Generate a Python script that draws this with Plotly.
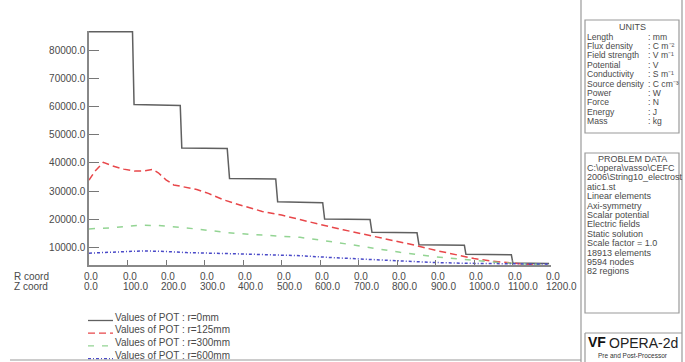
import plotly.graph_objects as go

# ---- potential along the string axis (Z coordinate, mm) ----
z_r0 = [0, 113, 117, 237, 241, 359, 365, 485, 490, 607, 612, 730, 735, 852, 857, 975, 979, 1097, 1101, 1150, 1195]
pot_r0 = [86500, 86500, 60700, 60400, 45300, 45100, 34500, 34300, 26200, 25900, 20100, 19900,
          15400, 15200, 11000, 10800, 7600, 7400, 4500, 4400, 4300]

z_r125 = [0, 15, 37, 60, 90, 120, 145, 165, 180, 200, 220, 250, 280, 310, 350, 392, 450, 500, 548,
          600, 660, 722, 800, 850, 900, 950, 1000, 1050, 1100, 1150, 1197]
pot_r125 = [33900, 37000, 40200, 39000, 37800, 37100, 37200, 37700, 36500, 34000, 32200, 31300,
            30600, 29200, 26900, 25100, 22800, 21500, 19800, 18200, 16300, 14500, 12300, 10700,
            9000, 7500, 6100, 5100, 4400, 3800, 3300]

z_r300 = [0, 60, 130, 180, 250, 320, 380, 450, 548, 634, 722, 808, 894, 980, 1068, 1150, 1195]
pot_r300 = [16600, 17000, 17900, 17800, 17000, 15800, 15000, 14400, 13600, 12000, 10000, 8300,
            6800, 5600, 4600, 4100, 3900]

z_r600 = [0, 60, 140, 200, 254, 374, 460, 548, 634, 722, 808, 894, 980, 1068, 1150, 1195]
pot_r600 = [8000, 8400, 8800, 8600, 8200, 7800, 7500, 7100, 6400, 5800, 5200, 4700, 4400, 4200,
            4100, 4100]

series_names = ["Values of POT : r=0mm", "Values of POT : r=125mm",
                "Values of POT : r=300mm", "Values of POT : r=600mm"]
series_colors = ["#606060", "#e8474a", "#93d493", "#4a4ac8"]
series_dash = ["solid", "7px,4px", "6px,8px", "3px,2px,1px,2px"]

x_ticks = list(range(0, 1201, 100))
y_ticks = list(range(10000, 80001, 10000))

units_rows = [("Length", ": mm"), ("Flux density", ": C m⁻²"),
              ("Field strength", ": V m⁻¹"), ("Potential", ": V"),
              ("Conductivity", ": S m⁻¹"), ("Source density", ": C cm⁻³"),
              ("Power", ": W"), ("Force", ": N"), ("Energy", ": J"), ("Mass", ": kg")]
problem_rows = ["C:\\opera\\vasso\\CEFC", "2006\\String10_electrost", "atic1.st",
                "Linear elements", "Axi-symmetry", "Scalar potential", "Electric fields",
                "Static solution", "Scale factor = 1.0", "18913 elements", "9594 nodes",
                "82 regions"]

# ---- page geometry (pixels) ----
W, H = 685, 362
L, R, T, B = 89, 134, 31, 97
PW, PH = W - L - R, H - T - B
FONT = "Liberation Sans, Arial, sans-serif"
TXT = "#4a4a4a"
BOX = "#9a9a9a"


def px(x):
    return (x - L) / PW


def py(y):
    return (H - B - y) / PH


fig = go.Figure()
for zs, vs, name, col, dash in zip([z_r0, z_r125, z_r300, z_r600],
                                   [pot_r0, pot_r125, pot_r300, pot_r600],
                                   series_names, series_colors, series_dash):
    fig.add_trace(go.Scatter(x=zs, y=vs, mode="lines", name=name,
                             line=dict(color=col, width=1.5, dash=dash),
                             showlegend=False, hoverinfo="skip"))

annotations = []
shapes = []


def label(x, y, text, size=10, anchor="left", color=TXT, xref="paper", xshift=0):
    annotations.append(dict(x=x, y=py(y), xref=xref, yref="paper", text=text,
                            showarrow=False, xanchor=anchor, yanchor="middle", xshift=xshift,
                            font=dict(size=size, color=color, family=FONT)))


# coordinate rows below the Z axis
label(px(12), 276.5, "R coord")
label(px(12), 286.5, "Z coord")
for v in x_ticks:
    label(v, 276.5, "0.0", xref="x", xshift=-7)
    label(v, 286.5, f"{v:.1f}", xref="x", xshift=-7)

# legend block
for i, (name, col, dash) in enumerate(zip(series_names, series_colors, series_dash)):
    ty = 317 + i * 12.7
    shapes.append(dict(type="line", xref="paper", yref="paper", x0=px(88), x1=px(113),
                       y0=py(ty + 3.5), y1=py(ty + 3.5),
                       line=dict(color=col, width=1.3, dash=dash)))
    label(px(113), ty, name)

# frame lines of the side panel and the page bottom
def seg(x0, y0, x1, y1, kind="line"):
    shapes.append(dict(type=kind, xref="paper", yref="paper", x0=px(x0), x1=px(x1),
                       y0=py(y0), y1=py(y1), line=dict(color=BOX, width=1.2)))


seg(581, 0, 581, 362)
seg(682, 0, 682, 362)
seg(10, 360, 581, 360)
seg(585, 20, 679, 133, "rect")
seg(585, 153, 679, 313, "rect")
seg(585, 333, 682, 333)
seg(585, 333, 585, 362)

# UNITS box
label(px(632), 26.5, "UNITS", size=9, anchor="center")
for i, (k, v) in enumerate(units_rows):
    ry = 36.5 + i * 9.4
    label(px(585), ry, k, size=8.6)
    label(px(646), ry, v, size=8.6)

# PROBLEM DATA box
label(px(632), 158.5, "PROBLEM DATA", size=9, anchor="center")
for i, line in enumerate(problem_rows):
    label(px(585), 168 + i * 9.4, line, size=9)

# product badge
label(px(586), 342, "<b>VF</b>", size=14, color="#111111")
label(px(607), 342.5, "OPERA-2d", size=14, color="#222222")
label(px(633), 355, "Pre and Post-Processor", size=6.5, anchor="center", color="#333333")

fig.update_layout(
    width=W, height=H, margin=dict(l=L, r=R, t=T, b=B, pad=0),
    paper_bgcolor="white", plot_bgcolor="white",
    font=dict(family=FONT, size=10, color=TXT),
    xaxis=dict(range=[0, 1200], tickvals=x_ticks, showticklabels=False, ticks="inside",
               ticklen=5, tickwidth=1.3, tickcolor="#777777", showline=True, linecolor="#888888",
               linewidth=1.5, showgrid=False, zeroline=False, fixedrange=True),
    yaxis=dict(range=[3800, 86800], tickvals=y_ticks, tickformat=".1f", ticks="inside",
               ticklen=10, tickwidth=1.3, tickcolor="#777777", showline=True,
               linecolor="#888888", linewidth=1.5, showgrid=False, zeroline=False,
               tickfont=dict(size=10, color=TXT, family=FONT), fixedrange=True),
    annotations=annotations, shapes=shapes, showlegend=False,
)

fig.write_html("out.html")
